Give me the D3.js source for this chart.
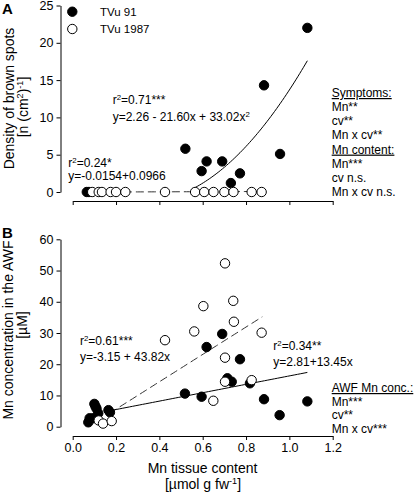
<!DOCTYPE html>
<html><head><meta charset="utf-8">
<script src="https://cdn.jsdelivr.net/npm/d3@7"></script>
<style>
body{margin:0;background:#fff;}
svg{font-family:"Liberation Sans",Arial,sans-serif;}
</style></head><body>
<svg id="c" width="415" height="492"></svg>
<script>
// ---------- data ----------
const xTicks = [0, 0.2, 0.4, 0.6, 0.8, 1.0, 1.2];
const yTicksA = [0, 5, 10, 15, 20, 25];
const yTicksB = [0, 10, 20, 30, 40, 50, 60];
const seriesNames = ["TVu 91", "TVu 1987"];

// Panel A: density of brown spots
const aTVu91X = [0.065, 0.075, 0.52, 0.595, 0.618, 0.69, 0.73, 0.772, 0.883, 0.957, 1.083];
const aTVu91Y = [0, 0, 5.8, 2.8, 4.1, 4.1, 1.2, 2.5, 14.3, 5.1, 22.0];
const aTVu1987X = [0.09, 0.12, 0.135, 0.175, 0.2, 0.243, 0.426, 0.565, 0.607, 0.65, 0.70, 0.742, 0.826, 0.872];
const aTVu1987Y = [0, 0, 0, 0, 0, 0, 0, 0, 0, 0, 0, 0, 0, 0];

// Panel B: Mn concentration in the AWF
const bTVu91X = [0.072, 0.078, 0.095, 0.1, 0.105, 0.11, 0.118, 0.165, 0.172, 0.518, 0.595, 0.618, 0.69, 0.714, 0.734, 0.772, 0.818, 0.883, 0.955, 1.083];
const bTVu91Y = [1.4, 2.7, 2.7, 7.3, 6.5, 5.8, 4.3, 5.3, 4.6, 10.6, 9.6, 25.5, 29.7, 15.5, 14.4, 21.6, 13.9, 8.8, 3.7, 8.1];
const bTVu1987X = [0.12, 0.14, 0.18, 0.426, 0.561, 0.603, 0.649, 0.703, 0.703, 0.703, 0.741, 0.744, 0.826, 0.872];
const bTVu1987Y = [2.0, 1.0, 1.8, 27.7, 30.5, 38.6, 8.3, 52.3, 22.1, 14.4, 40.3, 33.6, 14.9, 30.1];

// Regression fits (coefficients as printed) and x-extent of each fit
const fitA91 = [2.26, -21.60, 33.02], fitA91X = [0.55, 1.083];
const fitA1987 = [-0.0154, 0.0966], fitA1987X = [0.07, 0.875];
const fitB1987 = [-3.15, 43.82], fitB1987X = [0.17, 0.875];
const fitB91 = [2.81, 13.45], fitB91X = [0.17, 1.083];

// ---------- drawing ----------
const svg = d3.select("#c");
const x = d3.scaleLinear().domain([0, 1.2]).range([72.7, 332.7]);
const yA = d3.scaleLinear().domain([0, 25]).range([192, 5.5]);
const yB = d3.scaleLinear().domain([0, 60]).range([426.7, 239.3]);
const R = 4.7;
const axisX = 60.5;

function poly(c, v){ return c.reduce((s, k, i) => s + k * Math.pow(v, i), 0); }
function fitLine(g, y, c, ext, dash){
  const pts = d3.range(0, 61).map(i => ext[0] + (ext[1]-ext[0]) * i / 60);
  g.append("path")
    .attr("d", d3.line().x(v => x(v)).y(v => y(Math.max(0, poly(c, v))))(pts))
    .attr("fill", "none").attr("stroke", dash ? "#333" : "#000")
    .attr("stroke-width", 1).attr("stroke-dasharray", dash ? "8,4" : null);
}
function points(g, y, xs, ys, filled){
  g.selectAll(null).data(xs).enter().append("circle")
    .attr("cx", d => x(d)).attr("cy", (d, i) => y(ys[i])).attr("r", R)
    .attr("fill", filled ? "#000" : "#fff").attr("stroke", "#000").attr("stroke-width", 1);
}
function yAxis(y, ticks){
  const g = svg.append("g").attr("transform", `translate(${axisX},0)`)
    .call(d3.axisLeft(y).tickValues(ticks).tickSize(4).tickSizeOuter(0).tickFormat(d3.format("d")));
  g.selectAll("text").attr("font-size", 12.5).attr("font-family", "Liberation Sans, Arial").attr("fill", "#000");
  g.selectAll("line,path").attr("stroke", "#000");
}
function xAxis(yPos, labels){
  const g = svg.append("g").attr("transform", `translate(0,${yPos})`)
    .call(d3.axisBottom(x).tickValues(xTicks).tickSize(4).tickSizeOuter(0).tickFormat(labels ? d3.format(".1f") : () => ""));
  g.selectAll("text").attr("font-size", 12.5).attr("font-family", "Liberation Sans, Arial").attr("fill", "#000");
  g.selectAll("line,path").attr("stroke", "#000");
}
function txt(xp, yp, parts, size, opts = {}){
  const t = svg.append("text").attr("x", xp).attr("y", yp).attr("font-size", size).attr("fill", "#000");
  if (opts.anchor) t.attr("text-anchor", opts.anchor);
  if (opts.bold) t.attr("font-weight", "bold");
  if (opts.underline) t.attr("text-decoration", "underline");
  if (opts.rotate) t.attr("transform", `rotate(-90,${xp},${yp})`);
  parts.forEach(p => {
    if (typeof p === "string") t.append("tspan").text(p);
    else t.append("tspan").attr("baseline-shift", "super").attr("font-size", size * 0.65).text(p.sup);
  });
  return t;
}

// Panel A
yAxis(yA, yTicksA);
xAxis(201, false);
const gA = svg.append("g");
fitLine(gA, yA, fitA1987, fitA1987X, true);
fitLine(gA, yA, fitA91, fitA91X, false);
points(gA, yA, aTVu91X, aTVu91Y, true);
points(gA, yA, aTVu1987X, aTVu1987Y, false);

// legend
svg.append("circle").attr("cx", 72.3).attr("cy", 11.7).attr("r", R).attr("fill", "#000").attr("stroke", "#000");
svg.append("circle").attr("cx", 72.3).attr("cy", 29).attr("r", R).attr("fill", "#fff").attr("stroke", "#000");
txt(100, 15.8, [seriesNames[0]], 11.5);
txt(100, 33.1, [seriesNames[1]], 11.5);

txt(2, 14, ["A"], 15, {bold: true});
txt(13.5, 98.5, ["Density of brown spots"], 14, {anchor: "middle", rotate: true});
txt(28, 107, ["[n (cm", {sup: "2"}, ")", {sup: "-1"}, "]"], 14, {anchor: "middle", rotate: true});

txt(112.7, 104.3, ["r", {sup: "2"}, "=0.71***"], 12);
txt(112.7, 121.3, ["y=2.26 - 21.60x + 33.02x", {sup: "2"}], 12);
txt(68.3, 167, ["r", {sup: "2"}, "=0.24*"], 12);
txt(68.3, 179.5, ["y=-0.0154+0.0966"], 12);

const rightA = [["Symptoms:", true], ["Mn**"], ["cv**"], ["Mn x cv**"], ["Mn content:", true], ["Mn***"], ["cv n.s."], ["Mn x cv n.s."]];
rightA.forEach((r, i) => txt(331.7, 97 + i * 14.15, [r[0]], 12, {underline: !!r[1]}));

// Panel B
yAxis(yB, yTicksB);
xAxis(436, true);
const gB = svg.append("g");
fitLine(gB, yB, fitB1987, fitB1987X, true);
fitLine(gB, yB, fitB91, fitB91X, false);
points(gB, yB, bTVu91X, bTVu91Y, true);
points(gB, yB, bTVu1987X, bTVu1987Y, false);

txt(2, 237.5, ["B"], 15, {bold: true});
txt(13, 330, ["Mn concentration in the AWF"], 14, {anchor: "middle", rotate: true});
txt(27, 325, ["[µM]"], 14, {anchor: "middle", rotate: true});

txt(80, 344.5, ["r", {sup: "2"}, "=0.61***"], 12);
txt(80, 361, ["y=-3.15 + 43.82x"], 12);
txt(273.3, 349.5, ["r", {sup: "2"}, "=0.34**"], 12);
txt(273.3, 366, ["y=2.81+13.45x"], 12);

const rightB = [["AWF Mn conc.:", true], ["Mn***"], ["cv**"], ["Mn x cv***"]];
rightB.forEach((r, i) => txt(331.7, 392 + i * 13.7, [r[0]], 12, {underline: !!r[1]}));

txt(202.5, 473, ["Mn tissue content"], 14, {anchor: "middle"});
txt(203, 488.5, ["[µmol g fw", {sup: "-1"}, "]"], 14, {anchor: "middle"});
</script>
</body></html>
